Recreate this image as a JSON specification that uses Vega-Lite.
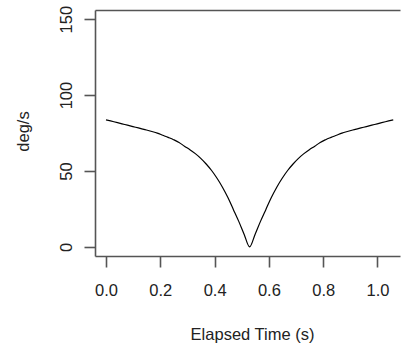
{
  "$schema": "https://vega.github.io/schema/vega-lite/v6.json",
  "autosize": "none",
  "width": 305,
  "height": 246,
  "padding": {"left": 95, "top": 10, "right": 2, "bottom": 91},
  "background": "white",
  "config": {
    "view": {"stroke": null},
    "font": "Liberation Sans",
    "axis": {
      "grid": false,
      "domainColor": "#555",
      "domainWidth": 1.6,
      "tickColor": "#555",
      "tickWidth": 1.6,
      "tickSize": 11,
      "labelFont": "Liberation Sans",
      "labelFontSize": 16.5,
      "labelColor": "#222",
      "titleFont": "Liberation Sans",
      "titleFontSize": 16.5,
      "titleFontWeight": "normal",
      "titleColor": "#222"
    }
  },
  "data": {"values": [
    {"t": 0.000, "v": 83.6}, {"t": 0.029, "v": 82.4}, {"t": 0.049, "v": 81.5},
    {"t": 0.069, "v": 80.6}, {"t": 0.089, "v": 79.7}, {"t": 0.109, "v": 78.8},
    {"t": 0.129, "v": 77.9}, {"t": 0.149, "v": 77.0}, {"t": 0.169, "v": 76.0},
    {"t": 0.189, "v": 74.9}, {"t": 0.209, "v": 73.5}, {"t": 0.229, "v": 72.1},
    {"t": 0.249, "v": 70.6}, {"t": 0.269, "v": 68.8}, {"t": 0.289, "v": 66.3},
    {"t": 0.309, "v": 64.0}, {"t": 0.329, "v": 61.4}, {"t": 0.349, "v": 58.3},
    {"t": 0.369, "v": 54.6}, {"t": 0.389, "v": 50.3}, {"t": 0.409, "v": 45.2},
    {"t": 0.429, "v": 39.3}, {"t": 0.449, "v": 32.5}, {"t": 0.469, "v": 24.7},
    {"t": 0.489, "v": 16.8}, {"t": 0.509, "v": 8.2}, {"t": 0.529, "v": 0.0},
    {"t": 0.549, "v": 8.2}, {"t": 0.569, "v": 16.8}, {"t": 0.589, "v": 24.7},
    {"t": 0.609, "v": 32.5}, {"t": 0.629, "v": 39.3}, {"t": 0.649, "v": 45.2},
    {"t": 0.669, "v": 50.3}, {"t": 0.689, "v": 54.6}, {"t": 0.709, "v": 58.3},
    {"t": 0.729, "v": 61.4}, {"t": 0.749, "v": 64.0}, {"t": 0.769, "v": 66.3},
    {"t": 0.789, "v": 68.8}, {"t": 0.809, "v": 70.6}, {"t": 0.829, "v": 72.1},
    {"t": 0.849, "v": 73.5}, {"t": 0.869, "v": 74.9}, {"t": 0.889, "v": 76.0},
    {"t": 0.909, "v": 77.0}, {"t": 0.929, "v": 77.9}, {"t": 0.949, "v": 78.8},
    {"t": 0.969, "v": 79.7}, {"t": 0.989, "v": 80.6}, {"t": 1.009, "v": 81.5},
    {"t": 1.029, "v": 82.4}, {"t": 1.058, "v": 83.6}
  ]},
  "resolve": {"axis": {"x": "independent", "y": "independent"}},
  "layer": [
    {
      "mark": {"type": "line", "color": "black", "strokeWidth": 1.2, "interpolate": "monotone"},
      "encoding": {
        "x": {
          "field": "t", "type": "quantitative",
          "scale": {"domain": [-0.0405, 1.0829], "nice": false, "zero": false},
          "axis": {
            "orient": "bottom",
            "values": [0, 0.2, 0.4, 0.6, 0.8, 1.0],
            "format": ".1f",
            "labelBaseline": "alphabetic",
            "labelPadding": 28,
            "labelFlush": false,
            "labelOverlap": false,
            "title": "Elapsed Time (s)",
            "titleBaseline": "alphabetic",
            "titleX": 157,
            "titleY": 83,
            "titleAnchor": "middle"
          }
        },
        "y": {
          "field": "v", "type": "quantitative",
          "scale": {"domain": [-6, 156], "nice": false, "zero": false},
          "axis": {
            "orient": "left",
            "values": [0, 50, 100, 150],
            "labelAngle": 270,
            "labelAlign": "center",
            "labelBaseline": "alphabetic",
            "labelPadding": 12.5,
            "labelFlush": false,
            "labelOverlap": false,
            "title": "deg/s",
            "titleAngle": 270,
            "titleBaseline": "alphabetic",
            "titleAlign": "center",
            "titleX": -67,
            "titleY": 121
          }
        }
      }
    },
    {
      "mark": {"type": "line", "opacity": 0},
      "encoding": {
        "x": {
          "field": "t", "type": "quantitative",
          "axis": {"orient": "top", "labels": false, "ticks": false, "title": null, "domain": true}
        },
        "y": {"field": "v", "type": "quantitative", "axis": null}
      }
    }
  ]
}
